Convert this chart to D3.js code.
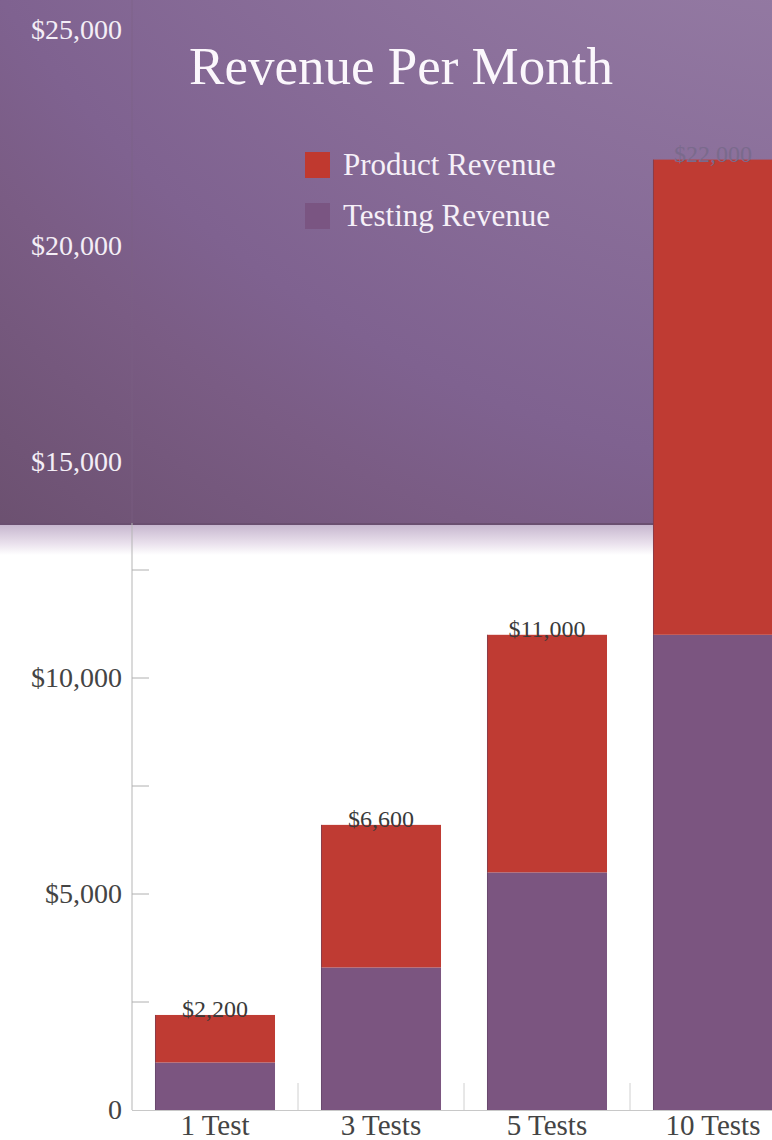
<!DOCTYPE html>
<html><head><meta charset="utf-8">
<script src="https://cdn.jsdelivr.net/npm/d3@7"></script>
<style>body{margin:0;background:#fff}svg{display:block}</style>
</head><body>
<script>
const categories = ["1 Test","3 Tests","5 Tests","10 Tests"];
const testingRevenue = [1100,3300,5500,11000];
const productRevenue = [1100,3300,5500,11000];
const totalLabels = ["$2,200","$6,600","$11,000","$22,000"];
const yTickValues = [0,5000,10000,15000,20000,25000];
const yTickLabels = ["0","$5,000","$10,000","$15,000","$20,000","$25,000"];
const minorTicks = [2500,5000,7500,10000,12500];
const seriesNames = ["Product Revenue","Testing Revenue"];

const W=772,H=1140;
const svg=d3.select("body").append("svg").attr("width",W).attr("height",H);
const defs=svg.append("defs");
const rg=defs.append("radialGradient").attr("id","bg").attr("gradientUnits","userSpaceOnUse")
 .attr("cx",900).attr("cy",-600).attr("r",1500);
rg.append("stop").attr("offset","0.4").attr("stop-color","#9379a2");
rg.append("stop").attr("offset","0.72").attr("stop-color","#7f6290");
rg.append("stop").attr("offset","0.8").attr("stop-color","#7a5c84");
rg.append("stop").attr("offset","0.97").attr("stop-color","#6b506f");
const fade=defs.append("linearGradient").attr("id","fade").attr("x1",0).attr("y1",0).attr("x2",0).attr("y2",1);
fade.append("stop").attr("offset","0").attr("stop-color","#c7b7cf");
fade.append("stop").attr("offset","0.6").attr("stop-color","#e9e0ec");
fade.append("stop").attr("offset","1").attr("stop-color","#ffffff");

const bgBottom=523;
svg.append("rect").attr("x",0).attr("y",0).attr("width",W).attr("height",bgBottom).attr("fill","url(#bg)");
svg.append("rect").attr("x",0).attr("y",bgBottom).attr("width",W).attr("height",2).attr("fill","#6a4f70");
svg.append("rect").attr("x",0).attr("y",bgBottom+2).attr("width",W).attr("height",30).attr("fill","url(#fade)");

const x=d3.scaleBand().domain(categories).range([132,796]).paddingInner(0.277).paddingOuter(0.1385);
const y=d3.scaleLinear().domain([0,25000]).range([1110,30]);
const serif="'Liberation Serif','DejaVu Serif',serif";

// axes lines
svg.append("line").attr("x1",132).attr("x2",132).attr("y1",bgBottom).attr("y2",y(0)).attr("stroke","#b5b5b5").attr("stroke-width",1);
svg.append("line").attr("x1",132).attr("x2",132).attr("y1",0).attr("y2",bgBottom).attr("stroke","#7d6285").attr("stroke-width",1).attr("opacity",0.6);
svg.append("line").attr("x1",132).attr("x2",W).attr("y1",y(0)+0.5).attr("y2",y(0)+0.5).attr("stroke","#c8c8c8");
svg.selectAll(".mt").data(minorTicks).join("line").attr("x1",132).attr("x2",149)
 .attr("y1",d=>y(d)).attr("y2",d=>y(d)).attr("stroke","#b0b0b0");
const bounds=categories.slice(1).map(c=>x(c)-x.step()*x.paddingInner()/2);
svg.selectAll(".xt").data(bounds).join("line").attr("x1",d=>d).attr("x2",d=>d)
 .attr("y1",y(0)).attr("y2",y(0)-27).attr("stroke","#d0d0d0");

// stacked bars
const rows=categories.map((c,i)=>({cat:c,testing:testingRevenue[i],product:productRevenue[i]}));
const stack=d3.stack().keys(["testing","product"])(rows);
const colors={testing:"#7b5580",product:"#bf3b33"};
svg.selectAll(".layer").data(stack).join("g").attr("fill",d=>colors[d.key])
 .selectAll("rect").data(d=>d).join("rect")
 .attr("x",d=>x(d.data.cat)).attr("width",x.bandwidth())
 .attr("y",d=>y(d[1])).attr("height",d=>y(d[0])-y(d[1]));
svg.selectAll(".edge").data(rows).join("line")
 .attr("x1",d=>x(d.cat)+0.5).attr("x2",d=>x(d.cat)+0.5)
 .attr("y1",d=>y(d.testing+d.product)).attr("y2",y(0)).attr("stroke","#5a3f5e").attr("stroke-width",1).attr("opacity",0.5);

// value labels
svg.selectAll(".vl").data(rows).join("text")
 .attr("x",d=>x(d.cat)+x.bandwidth()/2).attr("y",d=>y(d.testing+d.product)+2)
 .attr("text-anchor","middle").attr("font-family",serif).attr("font-size",24)
 .attr("fill",(d,i)=>y(d.testing+d.product)<bgBottom?"#7a6a8c":"#3a3a3a")
 .text((d,i)=>totalLabels[i]);

// y labels
svg.selectAll(".yl").data(yTickValues).join("text")
 .attr("x",122).attr("y",d=>y(d)+9).attr("text-anchor","end")
 .attr("font-family",serif).attr("font-size",28)
 .attr("fill",d=>y(d)<bgBottom?"#f4eef6":"#444")
 .text((d,i)=>yTickLabels[i]);

// x labels
svg.selectAll(".xl").data(categories).join("text")
 .attr("x",d=>x(d)+x.bandwidth()/2).attr("y",1135).attr("text-anchor","middle")
 .attr("font-family",serif).attr("font-size",29).attr("fill","#444").text(d=>d);

// title
svg.append("text").attr("x",401).attr("y",84).attr("text-anchor","middle")
 .attr("font-family",serif).attr("font-size",53).attr("fill","#fbf7fc").text("Revenue Per Month");

// legend
const leg=svg.selectAll(".lg").data(seriesNames).join("g").attr("transform",(d,i)=>`translate(305,${152+i*51})`);
leg.append("rect").attr("width",25).attr("height",26).attr("fill",(d,i)=>i==0?"#c0392f":"#7a5582");
leg.append("text").attr("x",38).attr("y",23).attr("font-family",serif).attr("font-size",31).attr("fill","#f6f0f8").text(d=>d);
</script>
</body></html>
